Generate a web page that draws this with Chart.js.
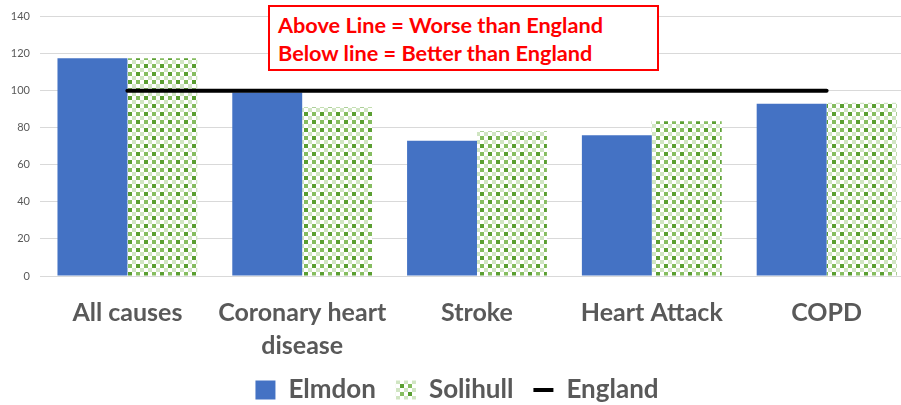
<!DOCTYPE html>
<html>
<head>
<meta charset="utf-8">
<script src="https://cdn.jsdelivr.net/npm/chart.js@4.4.1/dist/chart.umd.min.js"></script>
<style>
  html, body { margin: 0; padding: 0; background: #fff; overflow: hidden; }
  #wrap { position: relative; width: 914px; height: 413px; }
  #note {
    position: absolute; left: 268px; top: 5px; width: 391px; height: 66px;
    border: 2px solid #ff0000; background: #fff; box-sizing: border-box;
    font-family: Lato, "Open Sans", sans-serif; font-weight: 700; font-size: 21.7px;
    color: #ff0000; line-height: 28px; padding: 4px 0 0 8px; white-space: nowrap;
  }
</style>
</head>
<body>
<div id="wrap">
  <canvas id="c" width="914" height="413"></canvas>
  <div id="note"><div>Above Line = Worse than England</div><div>Below line = Better than England</div></div>
</div>
<script>
// Mortality ratios by cause (England = 100)
const categories = ['All causes', ['Coronary heart', 'disease'], 'Stroke', 'Heart Attack', 'COPD'];
const elmdon   = [117.5, 99, 73, 76, 93];
const solihull = [117.5, 91, 78, 83.5, 93.5];
const england  = [100, 100, 100, 100, 100];
const yTicks = { min: 0, max: 140, step: 20 };

// Small green checkerboard fill used for Solihull
function checkerPattern() {
  const cell = 4, n = 4;
  const tile = document.createElement('canvas');
  tile.width = tile.height = cell * n;
  const g = tile.getContext('2d');
  const D = '#5b9f32', M = '#86bd60', L = '#d0e5c2', W = '#ffffff';
  const grid = [
    [D, W, M, W],
    [W, L, W, L],
    [M, W, D, W],
    [W, L, W, L]
  ];
  for (let r = 0; r < n; r++) for (let c = 0; c < n; c++) {
    g.fillStyle = grid[r][c];
    g.fillRect(c * cell, r * cell, cell, cell);
  }
  return g.createPattern(tile, 'repeat');
}

const ctx = document.getElementById('c').getContext('2d');
const green = checkerPattern();
const font = 'Lato, "Open Sans", sans-serif';

new Chart(ctx, {
  data: {
    labels: categories,
    datasets: [
      { type: 'bar', label: 'Elmdon', data: elmdon, backgroundColor: '#4472c4', order: 2,
        categoryPercentage: 0.8, barPercentage: 1.0, pointStyle: 'rect' },
      { type: 'bar', label: 'Solihull', data: solihull, backgroundColor: green, order: 2,
        categoryPercentage: 0.8, barPercentage: 1.0, pointStyle: 'rect' },
      { type: 'line', label: 'England', data: england, borderColor: '#000', backgroundColor: '#000',
        borderWidth: 4, pointRadius: 0, borderCapStyle: 'round', order: 1, pointStyle: 'line' }
    ]
  },
  options: {
    responsive: false,
    animation: false,
    layout: { padding: { top: 10, left: 0, right: 0, bottom: 0 } },
    scales: {
      x: {
        offset: true,
        grid: { display: false, drawTicks: false },
        border: { display: false },
        ticks: {
          color: '#595959', padding: 20,
          font: { family: font, size: 25, weight: '700', lineHeight: 1.32 }
        },
        afterFit: s => { s.height = 81; }
      },
      y: {
        min: yTicks.min, max: yTicks.max,
        grid: { color: '#d9d9d9', lineWidth: 1, drawTicks: false },
        border: { display: false },
        ticks: {
          stepSize: yTicks.step, color: '#595959', padding: 10,
          font: { family: font, size: 11 }
        },
        afterFit: s => { s.width = 40; }
      }
    },
    plugins: {
      tooltip: { enabled: false },
      legend: {
        position: 'bottom',
        labels: {
          usePointStyle: true, boxHeight: 19, pointStyleWidth: 20, padding: 20,
          color: '#595959',
          sort: (a, b) => a.datasetIndex - b.datasetIndex,
          font: { family: font, size: 26, weight: '700' }
        }
      }
    }
  }
});
</script>
</body>
</html>
